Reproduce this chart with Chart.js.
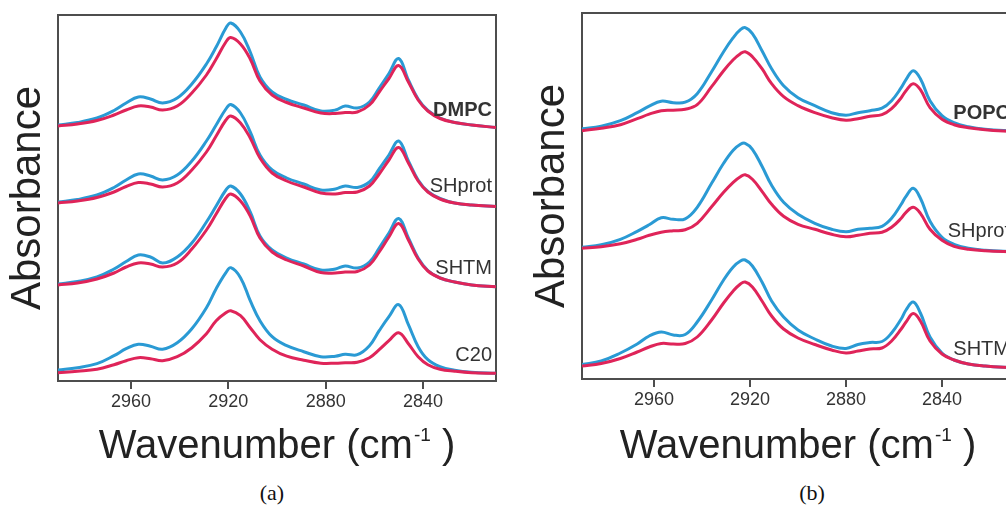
<!DOCTYPE html>
<html>
<head>
<meta charset="utf-8">
<title>CH stretching region</title>
<script src="https://cdn.jsdelivr.net/npm/chart.js@4.4.1/dist/chart.umd.min.js"></script>
<style>
  html, body { margin: 0; padding: 0; background: #fff; }
  body { width: 1006px; height: 505px; overflow: hidden; position: relative; font-family: "Liberation Sans", Arial, sans-serif; }
  .panel { position: absolute; top: 0; }
  #panelA { left: 0; width: 500px; height: 425px; }
  #panelB { left: 524px; width: 494px; height: 423px; }
  .xtitle { position: absolute; top: 424px; font-size: 40px; line-height: 40px; color: #222; text-align: center; white-space: nowrap; }
  .xtitle sup { font-size: 19px; vertical-align: baseline; position: relative; top: -17px; margin-left: 1px; }
  .caption { position: absolute; top: 482px; width: 100px; font-family: "Liberation Serif", "DejaVu Serif", serif; font-size: 22px; line-height: 22px; text-align: center; color: #111; }
</style>
</head>
<body>
<div class="panel" id="panelA"><canvas id="chartA"></canvas></div>
<div class="panel" id="panelB"><canvas id="chartB"></canvas></div>
<div class="xtitle" style="left:58px;width:438px">Wavenumber (cm<sup>-1</sup> )</div>
<div class="xtitle" style="left:582px;width:432px">Wavenumber (cm<sup>-1</sup> )</div>
<div class="caption" style="left:222px">(a)</div>
<div class="caption" style="left:762px">(b)</div>
<script>
// x ticks shared by both panels (cm-1)
const tickValues = [2960, 2920, 2880, 2840];

// ---- panel (a): DMPC-based samples ----
const wavenumbersA = [2990, 2982, 2974, 2967, 2962, 2957, 2952, 2947, 2941, 2935, 2929, 2925, 2921, 2919, 2915, 2911, 2907, 2902, 2896, 2889, 2882, 2876, 2872, 2867, 2862, 2858, 2854, 2850, 2846, 2842, 2838, 2833, 2827, 2820, 2810];
const samplesA = ['DMPC', 'SHprot', 'SHTM', 'C20'];
const offsetsA = [2.54, 1.78, 0.96, 0.083];

const dmpcBlue = [0.02, 0.045, 0.09, 0.165, 0.24, 0.30, 0.28, 0.24, 0.29, 0.43, 0.63, 0.80, 0.99, 1.04, 0.95, 0.75, 0.50, 0.35, 0.275, 0.22, 0.16, 0.17, 0.21, 0.19, 0.25, 0.39, 0.535, 0.685, 0.47, 0.28, 0.165, 0.09, 0.045, 0.02, -0.005];
const dmpcRed = [0.01, 0.03, 0.065, 0.12, 0.17, 0.21, 0.20, 0.17, 0.21, 0.34, 0.52, 0.68, 0.85, 0.895, 0.83, 0.68, 0.46, 0.32, 0.245, 0.19, 0.14, 0.135, 0.145, 0.15, 0.22, 0.35, 0.485, 0.615, 0.45, 0.27, 0.16, 0.085, 0.045, 0.02, -0.005];
const shprotABlue = [0.01, 0.035, 0.08, 0.155, 0.23, 0.29, 0.27, 0.23, 0.28, 0.42, 0.62, 0.78, 0.94, 0.985, 0.90, 0.71, 0.48, 0.33, 0.25, 0.19, 0.13, 0.14, 0.17, 0.155, 0.21, 0.34, 0.48, 0.62, 0.42, 0.23, 0.115, 0.045, 0.0, -0.02, -0.035];
const shprotARed = [0.0, 0.02, 0.055, 0.11, 0.165, 0.205, 0.19, 0.16, 0.20, 0.33, 0.51, 0.67, 0.83, 0.87, 0.80, 0.65, 0.45, 0.30, 0.22, 0.16, 0.10, 0.09, 0.105, 0.11, 0.17, 0.29, 0.43, 0.555, 0.40, 0.22, 0.11, 0.04, 0.0, -0.02, -0.035];
const shtmABlue = [0.01, 0.035, 0.08, 0.16, 0.235, 0.30, 0.28, 0.22, 0.28, 0.42, 0.63, 0.79, 0.95, 0.99, 0.91, 0.73, 0.49, 0.35, 0.27, 0.21, 0.15, 0.16, 0.19, 0.17, 0.23, 0.37, 0.52, 0.665, 0.47, 0.27, 0.145, 0.07, 0.03, 0.0, -0.017];
const shtmARed = [0.0, 0.02, 0.06, 0.12, 0.18, 0.22, 0.21, 0.18, 0.22, 0.36, 0.55, 0.71, 0.87, 0.91, 0.84, 0.69, 0.47, 0.33, 0.25, 0.19, 0.125, 0.12, 0.13, 0.135, 0.20, 0.33, 0.48, 0.615, 0.45, 0.26, 0.14, 0.07, 0.03, 0.0, -0.017];
const c20Blue = [0.027, 0.05, 0.09, 0.17, 0.24, 0.285, 0.265, 0.235, 0.30, 0.44, 0.65, 0.84, 1.0, 1.05, 0.95, 0.72, 0.52, 0.36, 0.27, 0.21, 0.16, 0.165, 0.185, 0.18, 0.27, 0.42, 0.56, 0.68, 0.48, 0.26, 0.13, 0.06, 0.025, 0.005, -0.006];
const c20Red = [0.0, 0.015, 0.035, 0.08, 0.12, 0.15, 0.14, 0.12, 0.16, 0.25, 0.39, 0.52, 0.60, 0.62, 0.57, 0.45, 0.33, 0.235, 0.165, 0.125, 0.095, 0.095, 0.10, 0.105, 0.15, 0.23, 0.32, 0.40, 0.29, 0.16, 0.08, 0.035, 0.015, 0.0, -0.006];

// ---- panel (b): POPC-based samples ----
const wavenumbersB = [2990, 2982, 2974, 2967, 2962, 2957, 2952, 2947, 2942, 2936, 2931, 2927, 2924, 2922, 2919, 2915, 2911, 2906, 2900, 2893, 2886, 2880, 2875, 2870, 2865, 2861, 2857, 2855, 2852, 2849, 2845, 2840, 2835, 2829, 2822, 2810];
const samplesB = ['POPC', 'SHprot', 'SHTM'];
const offsetsB = [2.483, 1.307, 0.13];

const popcBlue = [0.02, 0.045, 0.10, 0.18, 0.245, 0.295, 0.28, 0.285, 0.37, 0.59, 0.79, 0.93, 1.01, 1.03, 0.97, 0.80, 0.62, 0.45, 0.33, 0.25, 0.18, 0.155, 0.18, 0.20, 0.225, 0.30, 0.43, 0.51, 0.60, 0.52, 0.30, 0.15, 0.08, 0.04, 0.015, -0.005];
const popcRed = [0.0, 0.025, 0.06, 0.12, 0.165, 0.20, 0.205, 0.215, 0.26, 0.44, 0.60, 0.71, 0.77, 0.79, 0.74, 0.62, 0.47, 0.34, 0.25, 0.18, 0.13, 0.105, 0.12, 0.145, 0.16, 0.22, 0.33, 0.40, 0.47, 0.41, 0.23, 0.115, 0.06, 0.03, 0.01, -0.01];
const shprotBBlue = [0.01, 0.035, 0.09, 0.17, 0.235, 0.305, 0.29, 0.295, 0.41, 0.65, 0.85, 0.98, 1.04, 1.05, 0.99, 0.82, 0.63, 0.46, 0.34, 0.25, 0.19, 0.165, 0.19, 0.20, 0.22, 0.30, 0.44, 0.52, 0.60, 0.50, 0.27, 0.11, 0.04, 0.0, -0.02, -0.035];
const shprotBRed = [0.0, 0.015, 0.045, 0.09, 0.13, 0.16, 0.175, 0.185, 0.25, 0.415, 0.56, 0.66, 0.715, 0.735, 0.69, 0.57, 0.44, 0.32, 0.24, 0.19, 0.14, 0.115, 0.13, 0.15, 0.16, 0.21, 0.30, 0.36, 0.41, 0.35, 0.19, 0.08, 0.02, -0.01, -0.025, -0.035];
const shtmBBlue = [0.015, 0.05, 0.13, 0.22, 0.30, 0.34, 0.31, 0.315, 0.44, 0.66, 0.86, 0.99, 1.05, 1.06, 1.0, 0.84, 0.65, 0.49, 0.36, 0.27, 0.20, 0.175, 0.215, 0.235, 0.245, 0.33, 0.47, 0.56, 0.64, 0.53, 0.29, 0.13, 0.06, 0.02, 0.0, -0.02];
const shtmBRed = [0.0, 0.025, 0.075, 0.14, 0.19, 0.225, 0.22, 0.225, 0.29, 0.46, 0.63, 0.75, 0.82, 0.84, 0.79, 0.65, 0.50, 0.37, 0.28, 0.215, 0.16, 0.13, 0.15, 0.17, 0.18, 0.25, 0.37, 0.44, 0.525, 0.45, 0.25, 0.12, 0.06, 0.02, 0.0, -0.02];

const BLUE = '#2a9ad4';
const RED = '#df2459';
const FONT = '"Liberation Sans", Arial, sans-serif';

Chart.defaults.font.family = FONT;

// stacked spectra: each trace is lifted by its sample offset
function buildDatasets(wn, names, offsets, blues, reds) {
  const sets = [];
  names.forEach((name, i) => {
    sets.push({
      label: name + ' red',
      data: wn.map((w, k) => ({ x: w, y: offsets[i] + reds[i][k] })),
      borderColor: RED,
      order: 0
    });
    sets.push({
      label: name + ' blue',
      data: wn.map((w, k) => ({ x: w, y: offsets[i] + blues[i][k] })),
      borderColor: BLUE,
      order: 1
    });
  });
  return sets;
}

// box around the plot + sample names at the right edge
const framePlugin = {
  id: 'frame',
  beforeDatasetsDraw(chart) {
    const { ctx, chartArea: a } = chart;
    ctx.save();
    ctx.strokeStyle = '#4d4d4d';
    ctx.lineWidth = 2;
    ctx.strokeRect(a.left, a.top, a.right - a.left, a.bottom - a.top);
    ctx.restore();
  },
  afterDatasetsDraw(chart, args, opts) {
    const { ctx, chartArea: a, scales } = chart;
    ctx.save();
    ctx.fillStyle = '#333';
    ctx.textAlign = 'right';
    ctx.textBaseline = 'middle';
    opts.names.forEach((name, i) => {
      ctx.font = (i === 0 ? 'bold ' : '') + '20px ' + FONT;
      ctx.fillText(name, a.right - 4, scales.y.getPixelForValue(opts.offsets[i] + 0.17));
    });
    ctx.restore();
  }
};

function makeChart(id, wn, names, offsets, blues, reds, topPad) {
  return new Chart(document.getElementById(id), {
    type: 'line',
    data: { datasets: buildDatasets(wn, names, offsets, blues, reds) },
    plugins: [framePlugin],
    options: {
      responsive: true,
      maintainAspectRatio: false,
      animation: false,
      layout: { padding: { top: topPad, right: 4, left: 0, bottom: 0 } },
      elements: {
        point: { radius: 0 },
        line: { borderWidth: 3, tension: 0.4, fill: false }
      },
      scales: {
        x: {
          type: 'linear',
          reverse: true,
          min: 2810,
          max: 2990,
          afterBuildTicks: (scale) => { scale.ticks = tickValues.map(v => ({ value: v })); },
          afterFit: (scale) => { scale.height = 44; },
          ticks: { color: '#333', font: { size: 18 }, padding: 2, maxRotation: 0, callback: (v) => String(v) },
          grid: { drawOnChartArea: false, drawTicks: true, tickLength: 8, color: '#4d4d4d', lineWidth: 2 },
          border: { display: false }
        },
        y: {
          min: 0,
          max: 3.66,
          afterFit: (scale) => { scale.width = 58; },
          ticks: { display: false },
          grid: { display: false },
          border: { display: false },
          title: { display: true, text: 'Absorbance', color: '#222', font: { size: 42 }, padding: { top: 3, bottom: 0 } }
        }
      },
      plugins: {
        legend: { display: false },
        tooltip: { enabled: false },
        frame: { names, offsets }
      }
    }
  });
}

makeChart('chartA', wavenumbersA, samplesA, offsetsA,
  [dmpcBlue, shprotABlue, shtmABlue, c20Blue],
  [dmpcRed, shprotARed, shtmARed, c20Red], 15);

makeChart('chartB', wavenumbersB, samplesB, offsetsB,
  [popcBlue, shprotBBlue, shtmBBlue],
  [popcRed, shprotBRed, shtmBRed], 13);
</script>
</body>
</html>
